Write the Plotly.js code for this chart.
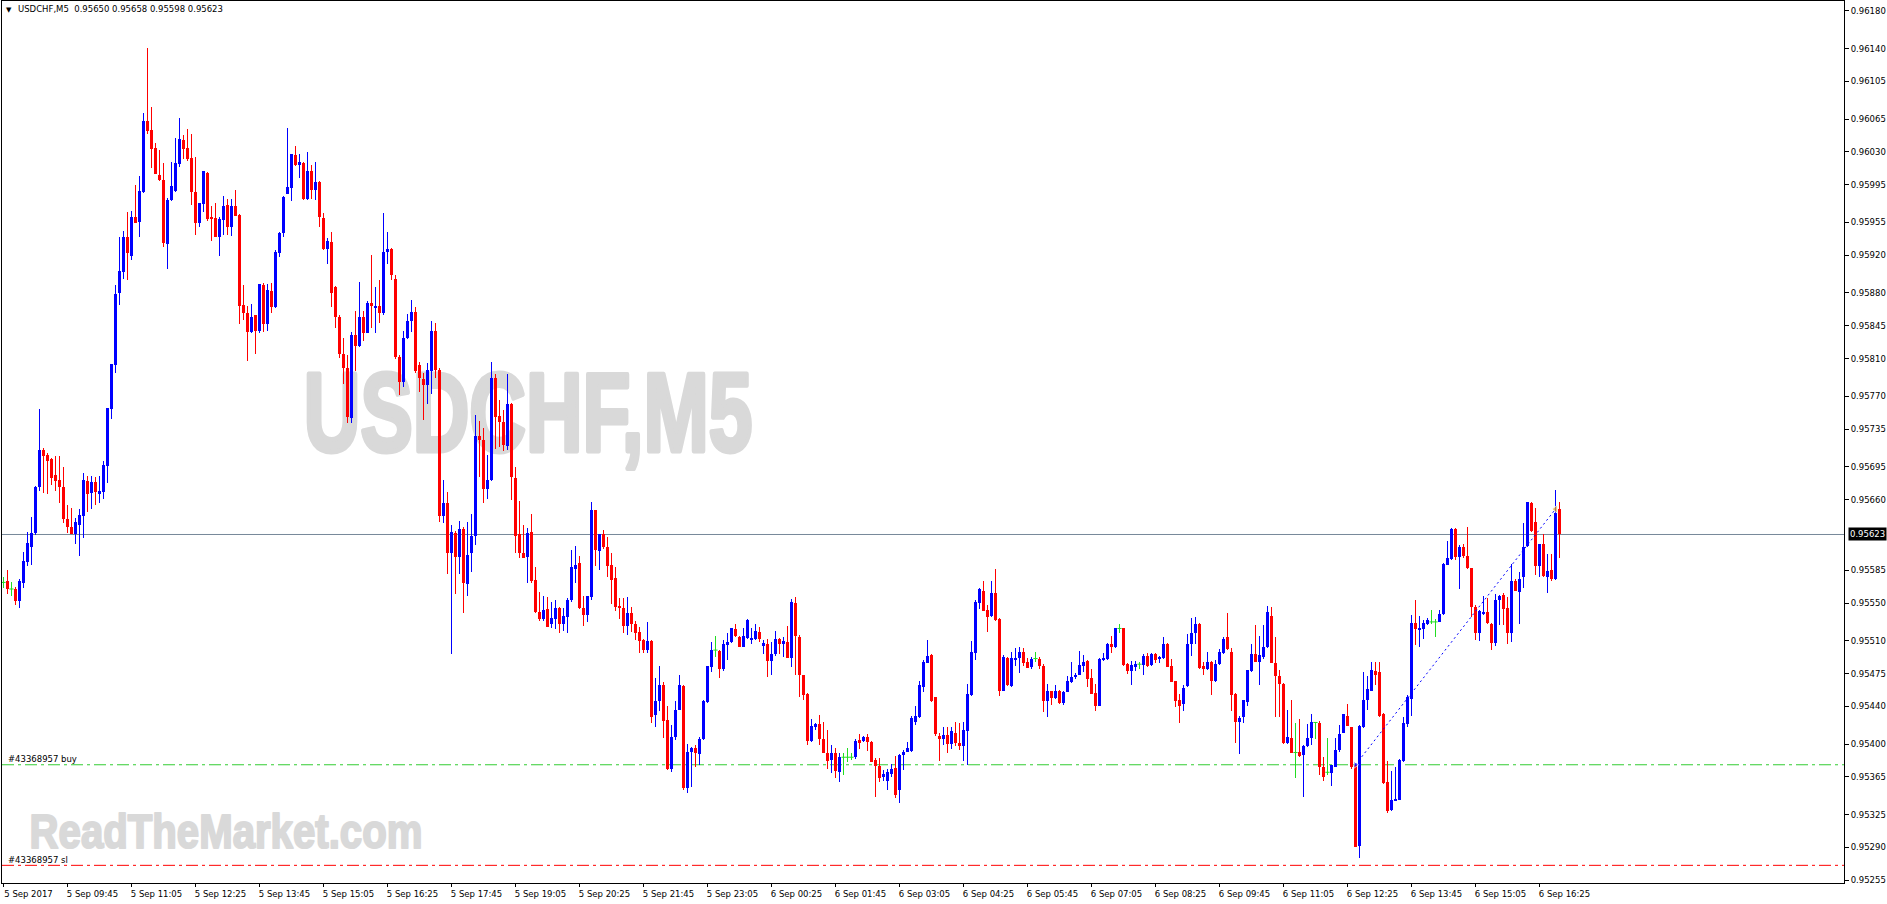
<!DOCTYPE html>
<html><head><meta charset="utf-8">
<script src="https://cdn.plot.ly/plotly-3.0.1.min.js"></script>
<style>html,body{margin:0;padding:0;background:#fff;overflow:hidden}#chart{width:1887px;height:904px}</style>
</head><body><div id="chart"></div>
<script>
// ---- data (USDCHF, M5, 5 Sep 2017 08:25 .. 6 Sep 2017 16:50) ----
const symbolName = 'USDCHF,M5';
const openP = [
0.95572,0.95574,0.95565,0.95565,0.95552,0.95571,0.95594,0.95610,0.95625,0.95673,
0.95713,0.95708,0.95703,0.95686,0.95681,0.95674,0.95640,0.95631,0.95623,0.95633,
0.95643,0.95680,0.95667,0.95679,0.95667,0.95668,0.95696,0.95757,0.95803,0.95880,
0.95902,0.95939,0.95919,0.95961,0.95955,0.95987,0.96063,0.96053,0.96034,0.96005,
0.96000,0.95932,0.95979,0.95988,0.96017,0.96043,0.96034,0.96024,0.95987,0.95954,
0.95975,0.96008,0.95960,0.95960,0.95940,0.95958,0.95974,0.95950,0.95973,0.95963,
0.95867,0.95859,0.95838,0.95856,0.95840,0.95888,0.95847,0.95882,0.95865,0.95923,
0.95944,0.95985,0.95992,0.96027,0.96016,0.96018,0.95980,0.96010,0.95989,0.95998,
0.95960,0.95927,0.95934,0.95886,0.95854,0.95815,0.95800,0.95747,0.95835,0.95824,
0.95854,0.95837,0.95869,0.95865,0.95866,0.95859,0.95924,0.95927,0.95895,0.95812,
0.95785,0.95832,0.95850,0.95860,0.95803,0.95788,0.95782,0.95797,0.95840,0.95798,
0.95643,0.95656,0.95603,0.95625,0.95599,0.95629,0.95570,0.95603,0.95621,0.95728,
0.95724,0.95671,0.95681,0.95789,0.95749,0.95743,0.95717,0.95762,0.95683,0.95623,
0.95603,0.95599,0.95626,0.95575,0.95541,0.95533,0.95544,0.95528,0.95533,0.95545,
0.95528,0.95535,0.95553,0.95586,0.95593,0.95545,0.95537,0.95556,0.95649,0.95605,
0.95624,0.95610,0.95591,0.95577,0.95547,0.95545,0.95526,0.95540,0.95528,0.95519,
0.95511,0.95500,0.95510,0.95431,0.95446,0.95463,0.95426,0.95374,0.95408,0.95436,
0.95462,0.95353,0.95392,0.95396,0.95389,0.95405,0.95445,0.95482,0.95500,0.95499,
0.95480,0.95505,0.95509,0.95522,0.95514,0.95503,0.95513,0.95511,0.95512,0.95519,
0.95504,0.95506,0.95488,0.95496,0.95512,0.95507,0.95509,0.95492,0.95550,0.95514,
0.95474,0.95453,0.95403,0.95418,0.95421,0.95405,0.95391,0.95383,0.95391,0.95370,
0.95386,0.95386,0.95386,0.95386,0.95404,0.95403,0.95408,0.95402,0.95383,0.95377,
0.95366,0.95361,0.95368,0.95375,0.95351,0.95388,0.95392,0.95393,0.95424,0.95429,
0.95461,0.95486,0.95495,0.95450,0.95409,0.95405,0.95410,0.95400,0.95412,0.95401,
0.95398,0.95414,0.95452,0.95497,0.95550,0.95563,0.95543,0.95536,0.95561,0.95533,
0.95457,0.95492,0.95462,0.95490,0.95492,0.95498,0.95487,0.95482,0.95491,0.95491,
0.95483,0.95446,0.95456,0.95449,0.95456,0.95444,0.95455,0.95466,0.95471,0.95474,
0.95483,0.95488,0.95470,0.95454,0.95441,0.95489,0.95490,0.95507,0.95503,0.95523,
0.95523,0.95485,0.95478,0.95483,0.95485,0.95484,0.95494,0.95484,0.95496,0.95490,
0.95492,0.95507,0.95483,0.95467,0.95447,0.95443,0.95462,0.95506,0.95518,0.95528,
0.95483,0.95480,0.95487,0.95467,0.95485,0.95497,0.95514,0.95498,0.95453,0.95424,
0.95429,0.95445,0.95478,0.95496,0.95487,0.95493,0.95503,0.95536,0.95486,0.95472,
0.95464,0.95401,0.95406,0.95391,0.95392,0.95388,0.95398,0.95407,0.95423,0.95422,
0.95376,0.95370,0.95369,0.95376,0.95394,0.95412,0.95430,0.95418,0.95378,0.95292,
0.95418,0.95447,0.95457,0.95478,0.95477,0.95432,0.95360,0.95330,0.95340,0.95341,
0.95382,0.95421,0.95448,0.95529,0.95521,0.95522,0.95528,0.95530,0.95530,0.95530,
0.95538,0.95591,0.95597,0.95629,0.95599,0.95610,0.95600,0.95587,0.95546,0.95518,
0.95538,0.95541,0.95528,0.95508,0.95553,0.95559,0.95545,0.95518,0.95574,0.95562,
0.95578,0.95611,0.95657,0.95636,0.95590,0.95613,0.95578,0.95585,0.95576,0.95650];
const highP = [
0.95578,0.95585,0.95572,0.95567,0.95576,0.95604,0.95626,0.95642,0.95675,0.95757,
0.95715,0.95710,0.95704,0.95706,0.95706,0.95695,0.95654,0.95651,0.95641,0.95650,
0.95688,0.95685,0.95685,0.95684,0.95685,0.95701,0.95758,0.95804,0.95888,0.95939,
0.95946,0.95966,0.95967,0.95995,0.96004,0.96071,0.96141,0.96078,0.96040,0.96032,
0.96018,0.95981,0.96019,0.96045,0.96066,0.96048,0.96054,0.96049,0.96025,0.95976,
0.96010,0.96009,0.95972,0.95976,0.95961,0.95983,0.95980,0.95980,0.95989,0.95964,
0.95888,0.95866,0.95868,0.95857,0.95890,0.95891,0.95889,0.95891,0.95926,0.95945,
0.95983,0.96056,0.96028,0.96036,0.96028,0.96019,0.96030,0.96016,0.96019,0.95999,
0.95965,0.95938,0.95945,0.95887,0.95856,0.95832,0.95814,0.95838,0.95861,0.95892,
0.95861,0.95871,0.95920,0.95886,0.95894,0.95965,0.95945,0.95928,0.95899,0.95814,
0.95840,0.95858,0.95872,0.95865,0.95806,0.95795,0.95805,0.95850,0.95848,0.95800,
0.95681,0.95668,0.95633,0.95627,0.95637,0.95631,0.95636,0.95645,0.95750,0.95744,
0.95736,0.95708,0.95806,0.95794,0.95766,0.95755,0.95794,0.95763,0.95695,0.95659,
0.95633,0.95630,0.95645,0.95588,0.95562,0.95558,0.95557,0.95551,0.95553,0.95546,
0.95545,0.95555,0.95606,0.95611,0.95600,0.95558,0.95558,0.95658,0.95649,0.95624,
0.95628,0.95620,0.95603,0.95588,0.95555,0.95555,0.95556,0.95546,0.95531,0.95525,
0.95512,0.95530,0.95511,0.95470,0.95483,0.95466,0.95440,0.95420,0.95446,0.95473,
0.95463,0.95400,0.95397,0.95399,0.95408,0.95447,0.95483,0.95509,0.95515,0.95500,
0.95511,0.95518,0.95524,0.95528,0.95515,0.95524,0.95533,0.95523,0.95528,0.95525,
0.95511,0.95512,0.95509,0.95520,0.95513,0.95514,0.95526,0.95554,0.95557,0.95516,
0.95474,0.95454,0.95427,0.95422,0.95431,0.95423,0.95415,0.95399,0.95396,0.95390,
0.95390,0.95396,0.95391,0.95405,0.95411,0.95409,0.95411,0.95403,0.95385,0.95385,
0.95372,0.95374,0.95379,0.95387,0.95389,0.95394,0.95402,0.95430,0.95440,0.95467,
0.95489,0.95511,0.95496,0.95450,0.95412,0.95418,0.95418,0.95418,0.95424,0.95422,
0.95423,0.95464,0.95510,0.95553,0.95566,0.95573,0.95548,0.95574,0.95586,0.95534,
0.95495,0.95493,0.95498,0.95502,0.95503,0.95502,0.95492,0.95493,0.95498,0.95493,
0.95485,0.95464,0.95457,0.95463,0.95458,0.95457,0.95472,0.95487,0.95476,0.95499,
0.95495,0.95489,0.95480,0.95464,0.95492,0.95497,0.95508,0.95515,0.95524,0.95528,
0.95524,0.95486,0.95488,0.95488,0.95487,0.95496,0.95497,0.95497,0.95497,0.95494,
0.95514,0.95508,0.95490,0.95467,0.95453,0.95463,0.95517,0.95534,0.95535,0.95529,
0.95487,0.95498,0.95488,0.95489,0.95501,0.95514,0.95540,0.95502,0.95454,0.95430,
0.95447,0.95479,0.95506,0.95527,0.95515,0.95527,0.95547,0.95546,0.95514,0.95479,
0.95465,0.95436,0.95447,0.95422,0.95427,0.95399,0.95421,0.95432,0.95423,0.95425,
0.95386,0.95407,0.95378,0.95406,0.95420,0.95432,0.95443,0.95418,0.95378,0.95420,
0.95477,0.95472,0.95487,0.95487,0.95487,0.95433,0.95382,0.95371,0.95376,0.95384,
0.95429,0.95452,0.95537,0.95553,0.95536,0.95532,0.95534,0.95543,0.95533,0.95543,
0.95593,0.95616,0.95630,0.95630,0.95612,0.95613,0.95631,0.95587,0.95548,0.95543,
0.95558,0.95555,0.95529,0.95560,0.95559,0.95561,0.95557,0.95592,0.95576,0.95583,
0.95635,0.95658,0.95658,0.95651,0.95613,0.95624,0.95602,0.95602,0.95670,0.95658];
const lowP = [
0.95566,0.95560,0.95558,0.95548,0.95545,0.95566,0.95590,0.95591,0.95622,0.95669,
0.95667,0.95666,0.95676,0.95669,0.95657,0.95635,0.95625,0.95623,0.95613,0.95600,
0.95619,0.95647,0.95650,0.95654,0.95657,0.95661,0.95678,0.95746,0.95795,0.95867,
0.95895,0.95894,0.95915,0.95954,0.95940,0.95986,0.96049,0.96013,0.96007,0.95999,
0.95929,0.95905,0.95978,0.95987,0.96014,0.96022,0.96020,0.95974,0.95942,0.95950,
0.95966,0.95957,0.95935,0.95939,0.95919,0.95942,0.95942,0.95941,0.95962,0.95847,
0.95851,0.95808,0.95837,0.95815,0.95837,0.95838,0.95840,0.95859,0.95864,0.95918,
0.95939,0.95985,0.95978,0.96015,0.96002,0.95979,0.95979,0.95980,0.95979,0.95950,
0.95926,0.95911,0.95865,0.95843,0.95811,0.95783,0.95742,0.95742,0.95797,0.95823,
0.95829,0.95837,0.95843,0.95837,0.95848,0.95857,0.95911,0.95894,0.95810,0.95771,
0.95780,0.95831,0.95838,0.95795,0.95775,0.95745,0.95762,0.95773,0.95790,0.95636,
0.95635,0.95581,0.95496,0.95560,0.95581,0.95539,0.95558,0.95583,0.95612,0.95684,
0.95657,0.95661,0.95680,0.95714,0.95716,0.95712,0.95713,0.95660,0.95603,0.95598,
0.95598,0.95571,0.95571,0.95540,0.95531,0.95531,0.95525,0.95524,0.95522,0.95518,
0.95520,0.95518,0.95551,0.95571,0.95544,0.95526,0.95530,0.95553,0.95590,0.95585,
0.95608,0.95578,0.95549,0.95542,0.95533,0.95518,0.95516,0.95519,0.95511,0.95497,
0.95497,0.95497,0.95422,0.95418,0.95435,0.95406,0.95372,0.95370,0.95404,0.95436,
0.95351,0.95348,0.95354,0.95376,0.95378,0.95404,0.95444,0.95477,0.95493,0.95470,
0.95478,0.95489,0.95508,0.95514,0.95503,0.95503,0.95512,0.95506,0.95511,0.95509,
0.95496,0.95471,0.95473,0.95494,0.95496,0.95493,0.95492,0.95482,0.95473,0.95450,
0.95447,0.95399,0.95402,0.95415,0.95399,0.95390,0.95374,0.95369,0.95364,0.95360,
0.95367,0.95381,0.95383,0.95384,0.95395,0.95402,0.95393,0.95381,0.95344,0.95360,
0.95361,0.95351,0.95365,0.95343,0.95337,0.95372,0.95392,0.95392,0.95420,0.95428,
0.95455,0.95486,0.95445,0.95409,0.95382,0.95399,0.95391,0.95395,0.95398,0.95394,
0.95382,0.95378,0.95451,0.95489,0.95544,0.95542,0.95519,0.95535,0.95531,0.95451,
0.95456,0.95462,0.95461,0.95483,0.95476,0.95483,0.95481,0.95480,0.95487,0.95480,
0.95434,0.95429,0.95442,0.95448,0.95443,0.95442,0.95455,0.95465,0.95469,0.95473,
0.95477,0.95461,0.95453,0.95435,0.95440,0.95488,0.95489,0.95497,0.95502,0.95518,
0.95483,0.95475,0.95463,0.95478,0.95480,0.95474,0.95482,0.95483,0.95486,0.95486,
0.95491,0.95482,0.95466,0.95439,0.95422,0.95435,0.95461,0.95494,0.95507,0.95480,
0.95474,0.95479,0.95452,0.95466,0.95484,0.95496,0.95500,0.95435,0.95401,0.95389,
0.95422,0.95441,0.95477,0.95487,0.95463,0.95491,0.95502,0.95486,0.95429,0.95429,
0.95400,0.95400,0.95390,0.95364,0.95386,0.95344,0.95397,0.95399,0.95405,0.95367,
0.95361,0.95367,0.95355,0.95376,0.95392,0.95412,0.95419,0.95374,0.95290,0.95279,
0.95417,0.95436,0.95456,0.95463,0.95429,0.95358,0.95327,0.95329,0.95339,0.95340,
0.95381,0.95418,0.95430,0.95505,0.95503,0.95512,0.95527,0.95528,0.95514,0.95530,
0.95537,0.95591,0.95596,0.95596,0.95565,0.95598,0.95586,0.95535,0.95511,0.95510,
0.95537,0.95528,0.95500,0.95504,0.95527,0.95527,0.95507,0.95509,0.95563,0.95528,
0.95566,0.95610,0.95626,0.95580,0.95578,0.95578,0.95561,0.95574,0.95575,0.95598];
const closeP = [
0.95572,0.95565,0.95565,0.95552,0.95573,0.95595,0.95614,0.95625,0.95674,0.95713,
0.95707,0.95701,0.95683,0.95680,0.95673,0.95640,0.95631,0.95623,0.95636,0.95644,
0.95681,0.95666,0.95679,0.95668,0.95669,0.95697,0.95758,0.95804,0.95879,0.95903,
0.95939,0.95922,0.95961,0.95954,0.95988,0.96063,0.96052,0.96033,0.96007,0.96000,
0.95933,0.95979,0.95994,0.96018,0.96044,0.96033,0.96023,0.95987,0.95954,0.95976,
0.96010,0.95959,0.95959,0.95940,0.95959,0.95973,0.95950,0.95973,0.95962,0.95866,
0.95859,0.95838,0.95854,0.95840,0.95889,0.95847,0.95883,0.95865,0.95924,0.95944,
0.95982,0.95993,0.96028,0.96016,0.96019,0.95980,0.96010,0.95989,0.95998,0.95961,
0.95927,0.95935,0.95880,0.95854,0.95815,0.95800,0.95748,0.95835,0.95824,0.95854,
0.95837,0.95869,0.95866,0.95866,0.95859,0.95924,0.95927,0.95899,0.95812,0.95785,
0.95832,0.95850,0.95860,0.95797,0.95789,0.95782,0.95798,0.95840,0.95798,0.95643,
0.95656,0.95603,0.95626,0.95599,0.95629,0.95571,0.95601,0.95621,0.95728,0.95724,
0.95671,0.95681,0.95789,0.95748,0.95743,0.95718,0.95762,0.95684,0.95621,0.95603,
0.95598,0.95625,0.95574,0.95541,0.95533,0.95543,0.95525,0.95534,0.95545,0.95528,
0.95536,0.95553,0.95588,0.95591,0.95545,0.95537,0.95558,0.95649,0.95606,0.95623,
0.95610,0.95590,0.95575,0.95546,0.95545,0.95526,0.95540,0.95528,0.95518,0.95510,
0.95500,0.95510,0.95429,0.95446,0.95463,0.95425,0.95374,0.95408,0.95436,0.95463,
0.95353,0.95392,0.95396,0.95390,0.95405,0.95446,0.95483,0.95500,0.95500,0.95480,
0.95507,0.95509,0.95523,0.95515,0.95503,0.95515,0.95532,0.95513,0.95520,0.95512,
0.95508,0.95488,0.95496,0.95512,0.95507,0.95510,0.95492,0.95551,0.95515,0.95473,
0.95452,0.95403,0.95419,0.95421,0.95405,0.95391,0.95382,0.95390,0.95371,0.95386,
0.95386,0.95386,0.95386,0.95403,0.95401,0.95408,0.95402,0.95381,0.95377,0.95364,
0.95368,0.95370,0.95374,0.95346,0.95388,0.95392,0.95396,0.95428,0.95430,0.95463,
0.95487,0.95494,0.95446,0.95411,0.95405,0.95410,0.95400,0.95414,0.95401,0.95398,
0.95415,0.95453,0.95498,0.95551,0.95565,0.95542,0.95535,0.95561,0.95532,0.95457,
0.95493,0.95463,0.95492,0.95492,0.95498,0.95486,0.95481,0.95490,0.95491,0.95483,
0.95446,0.95456,0.95449,0.95456,0.95444,0.95455,0.95467,0.95471,0.95474,0.95484,
0.95487,0.95469,0.95453,0.95441,0.95491,0.95492,0.95506,0.95503,0.95523,0.95523,
0.95484,0.95478,0.95484,0.95485,0.95485,0.95494,0.95483,0.95496,0.95489,0.95493,
0.95506,0.95482,0.95466,0.95446,0.95441,0.95460,0.95506,0.95518,0.95528,0.95481,
0.95480,0.95487,0.95467,0.95485,0.95498,0.95512,0.95501,0.95452,0.95424,0.95428,
0.95447,0.95479,0.95496,0.95487,0.95495,0.95503,0.95541,0.95486,0.95472,0.95464,
0.95401,0.95408,0.95391,0.95391,0.95387,0.95398,0.95407,0.95423,0.95423,0.95376,
0.95365,0.95370,0.95378,0.95394,0.95411,0.95432,0.95419,0.95376,0.95291,0.95419,
0.95447,0.95459,0.95479,0.95474,0.95430,0.95359,0.95329,0.95340,0.95342,0.95383,
0.95422,0.95450,0.95529,0.95522,0.95524,0.95529,0.95532,0.95530,0.95530,0.95538,
0.95592,0.95598,0.95629,0.95599,0.95610,0.95600,0.95587,0.95546,0.95518,0.95542,
0.95541,0.95529,0.95508,0.95553,0.95558,0.95544,0.95518,0.95574,0.95563,0.95576,
0.95610,0.95658,0.95627,0.95590,0.95613,0.95579,0.95584,0.95576,0.95646,0.95623];

const timeLabels = ['5 Sep 2017','5 Sep 09:45','5 Sep 11:05','5 Sep 12:25','5 Sep 13:45','5 Sep 15:05',
 '5 Sep 16:25','5 Sep 17:45','5 Sep 19:05','5 Sep 20:25','5 Sep 21:45','5 Sep 23:05','6 Sep 00:25',
 '6 Sep 01:45','6 Sep 03:05','6 Sep 04:25','6 Sep 05:45','6 Sep 07:05','6 Sep 08:25','6 Sep 09:45',
 '6 Sep 11:05','6 Sep 12:25','6 Sep 13:45','6 Sep 15:05','6 Sep 16:25'];
const timeLabelBars = [0,16,32,48,64,80,96,112,128,144,160,176,192,208,224,240,256,272,288,304,320,336,352,368,384];
const priceTicks = [0.96180,0.96140,0.96105,0.96065,0.96030,0.95995,0.95955,0.95920,0.95880,0.95845,
 0.95810,0.95770,0.95735,0.95695,0.95660,0.95585,0.95550,0.95510,0.95475,0.95440,0.95400,0.95365,
 0.95325,0.95290,0.95255];
const bidPrice = 0.95623;
const orderTicket = '#43368957';
const buyPrice = 0.95378;
const slPrice = 0.95271;
const tradeBars = [338, 388];
const tradePrices = [0.95378, 0.95650];
const headerText = 'USDCHF,M5\u00a0\u00a00.95650 0.95658 0.95598 0.95623';
const watermarks = ['USDCHF,M5', 'ReadTheMarket.com'];

// ---- styles ----
const BULL = '#0000ff', BEAR = '#ff0000', DOJI = '#22dd22';
const FONT = 'DejaVu Sans, Verdana, sans-serif';

const n = openP.length;
const idx = openP.map((_, i) => i);
const colorOf = i => closeP[i] > openP[i] ? BULL : (closeP[i] < openP[i] ? BEAR : DOJI);
const cols = idx.map(colorOf);

const wickTrace = {
  type: 'bar', xaxis: 'x2', yaxis: 'y2', x: idx,
  base: lowP, y: idx.map(i => highP[i] - lowP[i]),
  width: 0.25, marker: {color: cols, line: {width: 0}}, hoverinfo: 'skip'
};
const bodyTrace = {
  type: 'bar', xaxis: 'x2', yaxis: 'y2', x: idx,
  base: idx.map(i => Math.min(openP[i], closeP[i])),
  y: idx.map(i => Math.abs(closeP[i] - openP[i])),
  width: 0.75, marker: {color: cols, line: {width: 0}}, hoverinfo: 'skip'
};
const dojiIdx = idx.filter(i => openP[i] === closeP[i]);
const dojiTrace = {
  type: 'scatter', mode: 'markers', xaxis: 'x2', yaxis: 'y2',
  x: dojiIdx, y: dojiIdx.map(i => closeP[i]),
  marker: {symbol: 'line-ew', size: 3, color: DOJI, line: {width: 1, color: DOJI}},
  hoverinfo: 'skip'
};
const tradeLine = {
  type: 'scatter', mode: 'lines', xaxis: 'x2', yaxis: 'y2',
  x: tradeBars, y: tradePrices, line: {color: '#0000ff', width: 1, dash: '2px,3px'}, hoverinfo: 'skip'
};
const tradeMarks = {
  type: 'scatter', mode: 'markers', xaxis: 'x2', yaxis: 'y2',
  x: tradeBars, y: tradePrices,
  marker: {symbol: ['triangle-right', 'triangle-left'], size: [6, 7], color: ['#0000ff', '#e0a020']},
  hoverinfo: 'skip'
};
const wm1 = {
  type: 'scatter', mode: 'text', xaxis: 'x', yaxis: 'y',
  x: [0.2856], y: [0.521], text: [watermarks[0]], textposition: 'middle center', cliponaxis: false,
  textfont: {family: 'Liberation Sans, Arial, sans-serif', size: 112, color: '#d9d9d9', weight: 'bold'},
  hoverinfo: 'skip'
};
const wm2 = {
  type: 'scatter', mode: 'text', xaxis: 'x', yaxis: 'y',
  x: [0.1216], y: [0.054], text: [watermarks[1]], textposition: 'middle center', cliponaxis: false,
  textfont: {family: 'Liberation Sans, Arial, sans-serif', size: 49, color: '#d9d9d9', weight: 'bold'},
  hoverinfo: 'skip'
};

const PLOT_W = 1887 - 2 - 43;
const x0 = -0.375;
const dashdot = '12px,4px,3px,4px';

const layout = {
  width: 1887, height: 904,
  margin: {l: 2, r: 43, t: 1, b: 21},
  paper_bgcolor: '#ffffff', plot_bgcolor: '#ffffff',
  showlegend: false, barmode: 'overlay', bargap: 0, hovermode: false,
  xaxis: {range: [0, 1], visible: false, fixedrange: true},
  yaxis: {range: [0, 1], visible: false, fixedrange: true},
  xaxis2: {
    overlaying: 'x', anchor: 'y2', side: 'bottom',
    range: [x0, x0 + PLOT_W / 4], tickmode: 'array', tickvals: timeLabelBars, ticktext: timeLabels,
    ticks: 'outside', ticklen: 3, tickcolor: '#000', tickwidth: 1,
    showgrid: false, zeroline: false, showline: true, mirror: true, linecolor: '#000', linewidth: 1,
    tickfont: {family: FONT, size: 8.5, color: '#000'}, ticklabelshift: 25, ticklabelstandoff: 0,
    fixedrange: true
  },
  yaxis2: {
    overlaying: 'y', anchor: 'x2', side: 'right',
    range: [0.952522, 0.961906], tickmode: 'array', tickvals: priceTicks,
    ticktext: priceTicks.map(v => v.toFixed(5)),
    ticks: 'outside', ticklen: 4, tickcolor: '#000', tickwidth: 1,
    showgrid: false, zeroline: false, showline: true, mirror: true, linecolor: '#000', linewidth: 1,
    tickfont: {family: FONT, size: 8.5, color: '#000'}, fixedrange: true
  },
  shapes: [
    {type: 'line', layer: 'below', xref: 'paper', x0: 0, x1: 1, yref: 'y2', y0: bidPrice, y1: bidPrice,
     line: {color: '#778899', width: 1}},
    {type: 'line', layer: 'below', xref: 'paper', x0: 0, x1: 1, yref: 'y2', y0: buyPrice, y1: buyPrice,
     line: {color: '#33cc33', width: 1, dash: dashdot}},
    {type: 'line', layer: 'below', xref: 'paper', x0: 0, x1: 1, yref: 'y2', y0: slPrice, y1: slPrice,
     line: {color: '#ff0000', width: 1, dash: dashdot}}
  ],
  annotations: [
    {xref: 'paper', yref: 'paper', x: 0, y: 1, xanchor: 'left', yanchor: 'top', xshift: 2, yshift: -3,
     text: '▼', showarrow: false, font: {family: FONT, size: 7, color: '#000'}},
    {xref: 'paper', yref: 'paper', x: 0, y: 1, xanchor: 'left', yanchor: 'top', xshift: 14, yshift: -1,
     text: headerText, showarrow: false, font: {family: FONT, size: 8.5, color: '#000'}},
    {xref: 'paper', yref: 'y2', x: 1, y: bidPrice, xanchor: 'left', yanchor: 'middle', xshift: 4,
     text: bidPrice.toFixed(5), showarrow: false, bgcolor: '#000', borderpad: 1,
     font: {family: FONT, size: 8.5, color: '#fff'}},
    {xref: 'paper', yref: 'y2', x: 0, y: buyPrice, xanchor: 'left', yanchor: 'bottom', xshift: 4, yshift: -1,
     text: orderTicket + ' buy', showarrow: false, font: {family: FONT, size: 8.5, color: '#000'}},
    {xref: 'paper', yref: 'y2', x: 0, y: slPrice, xanchor: 'left', yanchor: 'bottom', xshift: 4, yshift: -2,
     text: orderTicket + ' sl', showarrow: false, font: {family: FONT, size: 8.5, color: '#000'}}
  ]
};

const wmStyle = {};
wmStyle[watermarks[0]] = {sx: 0.70, stroke: 5};
wmStyle[watermarks[1]] = {sx: 0.82, stroke: 2.2};

Plotly.newPlot('chart', [wm1, wm2, wickTrace, bodyTrace, dojiTrace, tradeLine, tradeMarks], layout,
  {displayModeBar: false, responsive: false}).then(gd => {
  gd.querySelectorAll('.textpoint text').forEach(t => {
    const s = wmStyle[t.textContent];
    if (s) {
      t.style.stroke = '#d9d9d9';
      t.style.strokeWidth = s.stroke + 'px';
      t.style.strokeLinejoin = 'round';
      t.style.transformBox = 'fill-box';
      t.style.transformOrigin = 'center';
      t.style.transform = 'scaleX(' + s.sx + ')';
    }
  });
});
</script>
</body></html>
